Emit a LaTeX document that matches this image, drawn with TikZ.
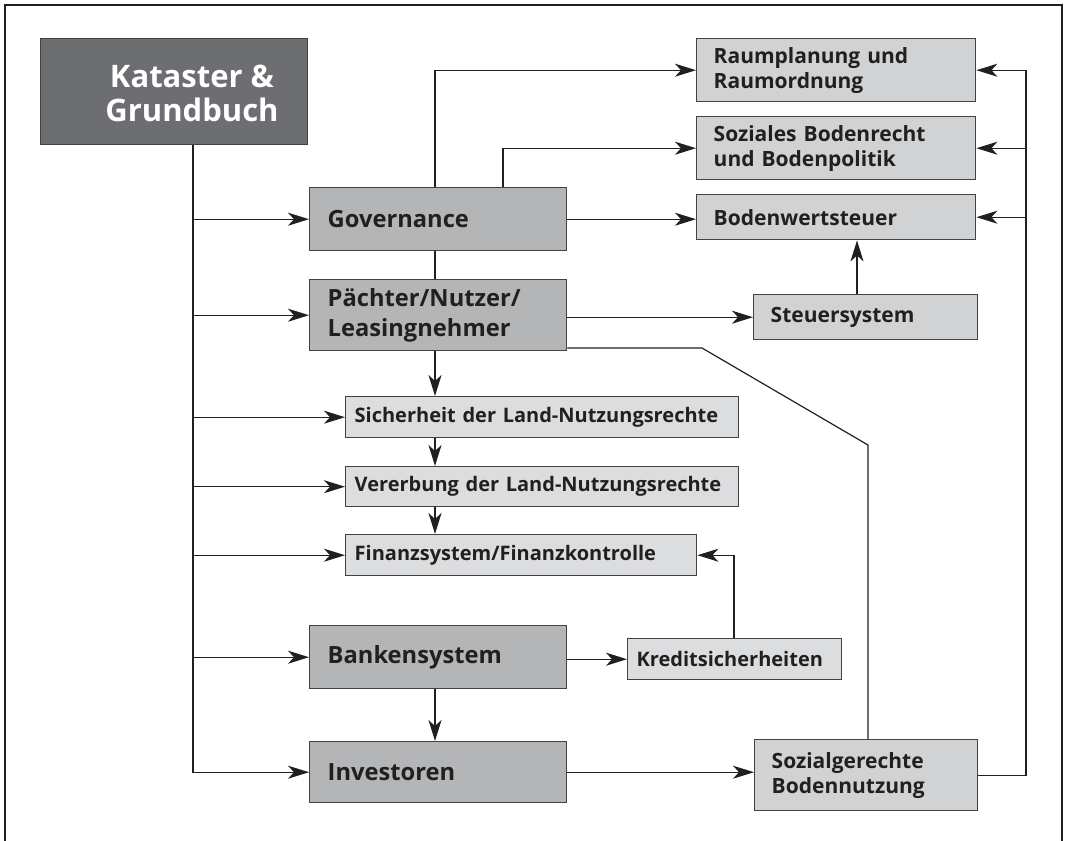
\documentclass[tikz,border=0pt]{standalone}
\usepackage{fontspec}
\setmainfont{Open Sans}
\usetikzlibrary{arrows.meta}
\definecolor{dk}{HTML}{6D6E71}
\definecolor{md}{HTML}{B4B5B7}
\definecolor{lt}{HTML}{D1D2D4}
\definecolor{xl}{HTML}{DCDDDF}
\definecolor{ink}{HTML}{231F20}
\tikzset{
  bx/.style={draw=ink!85, line width=1.4pt, rectangle, anchor=north west, align=left, text=ink, inner ysep=0pt},
  midbox/.style={bx, fill=md, inner xsep=18pt, font=\fontsize{23.7}{29.5}\selectfont\bfseries},
  rbox/.style={bx, fill=lt, inner xsep=17pt, font=\fontsize{21}{25}\selectfont\bfseries},
  lbox/.style={bx, fill=xl, inner xsep=9pt, font=\fontsize{20}{24}\selectfont\bfseries},
  conn/.style={draw=ink, line width=1.2pt},
  arr/.style={conn, -{Stealth[length=21pt,width=13pt,inset=6pt]}},
  frame/.style={draw=ink, line width=1.5pt}
}
\begin{document}
\begin{tikzpicture}[x=1pt,y=-1pt]
\useasboundingbox (0,0) rectangle (1066,841);
\draw[frame] (5,841) -- (5,5) -- (1062,5) -- (1062,841);

% boxes
\node[bx, fill=dk, minimum width=267pt, minimum height=106pt] (kat) at (40,38) {};
\node[text=white, align=center, font=\fontsize{31}{34}\selectfont\bfseries] (katt) at (192,93) {Kataster \&\\Grundbuch};

\node[midbox, minimum width=257pt, minimum height=63pt, text width=221pt] (gov) at (309,187) {Governance};
\node[midbox, minimum width=257pt, minimum height=71pt, text width=221pt] (pae) at (309,279) {Pächter/Nutzer/\\Leasingnehmer};
\node[midbox, minimum width=257pt, minimum height=63pt, text width=221pt] (bank) at (309,625) {Bankensystem};
\node[midbox, minimum width=257pt, minimum height=61pt, text width=221pt] (inv) at (309,741) {Investoren};

\node[lbox, minimum width=393pt, minimum height=41pt, text width=375pt] (sich) at (345,396) {Sicherheit der Land-Nutzungsrechte};
\node[lbox, minimum width=393pt, minimum height=40pt, text width=375pt] (ver) at (345,466) {Vererbung der Land-Nutzungsrechte};
\node[lbox, minimum width=351pt, minimum height=41pt, text width=333pt] (fin) at (345,534) {Finanzsystem/Finanzkontrolle};
\node[lbox, minimum width=214pt, minimum height=41pt, text width=196pt] (kred) at (627,638) {Kreditsicherheiten};

\node[rbox, minimum width=279pt, minimum height=63pt, text width=245pt] (raum) at (696,38) {Raumplanung und\\Raumordnung};
\node[rbox, minimum width=279pt, minimum height=63pt, text width=245pt] (sozb) at (696,116) {Soziales Bodenrecht\\und Bodenpolitik};
\node[rbox, minimum width=279pt, minimum height=45pt, text width=245pt] (bws) at (696,194) {Bodenwertsteuer};
\node[rbox, minimum width=224pt, minimum height=45pt, text width=190pt] (steu) at (753,294) {Steuersystem};
\node[rbox, minimum width=223pt, minimum height=71pt, text width=189pt] (sgb) at (754,739) {Sozialgerechte\\Bodennutzung};

% helper coordinates
\coordinate (tx) at (193,0);
\coordinate (ga) at (435,0);
\coordinate (gb) at (503,0);
\coordinate (kx) at (734,0);
\coordinate (rx) at (1026,0);
\coordinate (sx) at (857,0);
\coordinate (b1) at (702,348);
\coordinate (b2) at (868,445);

% left trunk
\draw[arr] (kat.south -| tx) -- (tx |- inv.west) -- (inv.west);
\draw[arr] (tx |- gov.west) -- (gov.west);
\draw[arr] (tx |- pae.west) -- (pae.west);
\draw[arr] (tx |- sich.west) -- (sich.west);
\draw[arr] (tx |- ver.west) -- (ver.west);
\draw[arr] (tx |- fin.west) -- (fin.west);
\draw[arr] (tx |- bank.west) -- (bank.west);

% governance
\draw[arr] (gov.north -| ga) |- (raum.west);
\draw[arr] (gov.north -| gb) |- (sozb.west);
\draw[arr] (gov.east) -- (bws.west |- gov.east);
\draw[conn] (gov.south -| ga) -- (pae.north -| ga);

% paechter
\draw[arr] (pae.east |- steu.west) -- (steu.west);
\draw[conn] (pae.east |- b1) -- (b1) -- (b2) -- (sgb.north -| b2);
\draw[arr] (pae.south -| ga) -- (sich.north -| ga);
\draw[arr] (sich.south -| ga) -- (ver.north -| ga);
\draw[arr] (ver.south -| ga) -- (fin.north -| ga);

% bank
\draw[arr] (bank.east |- kred.west) -- (kred.west);
\draw[arr] (kred.north -| kx) |- (fin.east);
\draw[arr] (bank.south -| ga) -- (inv.north -| ga);
\draw[arr] (inv.east) -- (sgb.west |- inv.east);

% right trunk
\draw[arr] (sgb.east) -- (sgb.east -| rx) -- (rx |- raum.east) -- (raum.east);
\draw[arr] (rx |- sozb.east) -- (sozb.east);
\draw[arr] (rx |- bws.east) -- (bws.east);
\draw[arr] (steu.north -| sx) -- (bws.south -| sx);
\end{tikzpicture}
\end{document}
